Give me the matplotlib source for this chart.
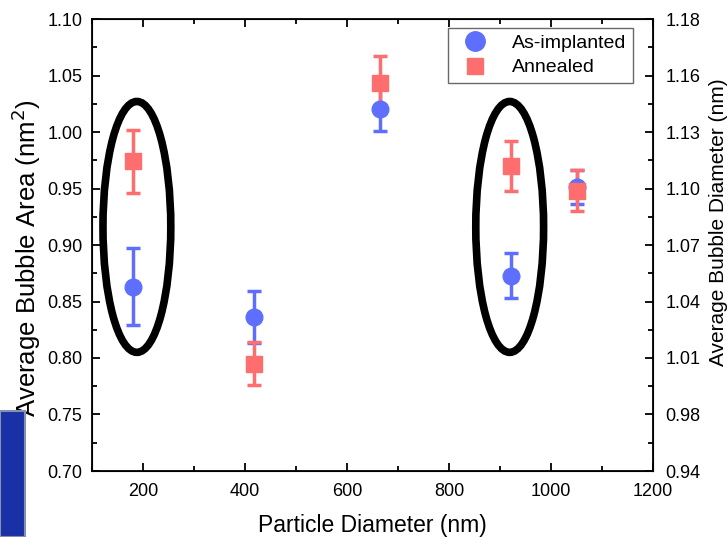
import numpy as np
import matplotlib.pyplot as plt
from matplotlib.patches import Ellipse, Rectangle
from matplotlib.lines import Line2D
from matplotlib.ticker import MultipleLocator

plt.rcParams['font.family'] = ['Liberation Sans', 'DejaVu Sans']

# data
diam = [180, 417, 665, 921, 1050]
area_asimpl = [0.863, 0.836, 1.020, 0.873, 0.951]
err_asimpl = [0.034, 0.023, 0.019, 0.020, 0.015]
area_anneal = [0.974, 0.795, 1.043, 0.970, 0.948]
err_anneal = [0.028, 0.019, 0.024, 0.022, 0.018]

left_ticks = [0.70, 0.75, 0.80, 0.85, 0.90, 0.95, 1.00, 1.05, 1.10]
right_labels = ["0.94", "0.98", "1.01", "1.04", "1.07", "1.10", "1.13", "1.16", "1.18"]

blue = "#5f6ffd"
red = "#ff6e6e"

fig = plt.figure(figsize=(7.28, 5.37), dpi=100)
ax = fig.add_axes([92/728, 1 - 471/537, 561/728, 452/537])

ax.errorbar(diam, area_asimpl, yerr=err_asimpl, fmt='o', color=blue, ms=12,
            capsize=5, capthick=2.5, elinewidth=2.5)
ax.errorbar(diam, area_anneal, yerr=err_anneal, fmt='s', color=red, ms=11,
            capsize=5, capthick=2.5, elinewidth=2.5)

# black ellipses around two pairs
for cx in [188, 919]:
    ax.add_patch(Ellipse((cx, 0.916), 133, 0.222, fill=False, ec='black', lw=5.5))

ax.set_xlim(100, 1200)
ax.set_ylim(0.70, 1.10)
ax.set_yticks(left_ticks)
ax.set_yticklabels([f"{t:.2f}" for t in left_ticks])
ax.set_xticks([200, 400, 600, 800, 1000, 1200])
ax.xaxis.set_minor_locator(MultipleLocator(100))
ax.yaxis.set_minor_locator(MultipleLocator(0.025))
ax.tick_params(which='both', direction='in', top=True, labelsize=13, width=1.3)
ax.tick_params(which='major', length=6)
ax.tick_params(which='minor', length=3.5)
ax.tick_params(axis='x', pad=9)
ax.tick_params(axis='y', pad=7)
for s in ax.spines.values():
    s.set_linewidth(1.3)

ax.set_xlabel("Particle Diameter (nm)", fontsize=16.5)
ax.xaxis.set_label_coords(0.5, -0.095)
ax.set_ylabel("Average Bubble Area (nm$^2$)", fontsize=18.5)
ax.yaxis.set_label_coords(-0.087, 0.471)

ax2 = ax.twinx()
ax2.set_ylim(0.70, 1.10)
ax2.set_yticks(left_ticks)
ax2.set_yticklabels(right_labels)
ax2.yaxis.set_minor_locator(MultipleLocator(0.025))
ax2.tick_params(which='both', direction='in', labelsize=13, width=1.3, pad=9)
ax2.tick_params(which='major', length=6)
ax2.tick_params(which='minor', length=3.5)
ax2.set_ylabel("Average Bubble Diameter (nm)", fontsize=15)
ax2.yaxis.set_label_coords(1.1, 0.551)

handles = [Line2D([], [], ls='', marker='o', color=blue, ms=14),
           Line2D([], [], ls='', marker='s', color=red, ms=12)]
leg = ax.legend(handles, ["As-implanted", "Annealed"], loc='upper right',
                bbox_to_anchor=(0.964, 0.981), fontsize=14, fancybox=False,
                edgecolor='#444444', handletextpad=0.9, handlelength=2.0,
                borderpad=0.35, labelspacing=0.35, borderaxespad=0)
leg.get_frame().set_linewidth(1.0)

# blue slide fragment in the bottom-left corner
fig.patches.append(Rectangle((0, 0), 25/728, 126/537, transform=fig.transFigure,
                             fc='#1a30a6', ec='#8890b0', lw=1.5, figure=fig))

fig.savefig("out.png", dpi=100)
